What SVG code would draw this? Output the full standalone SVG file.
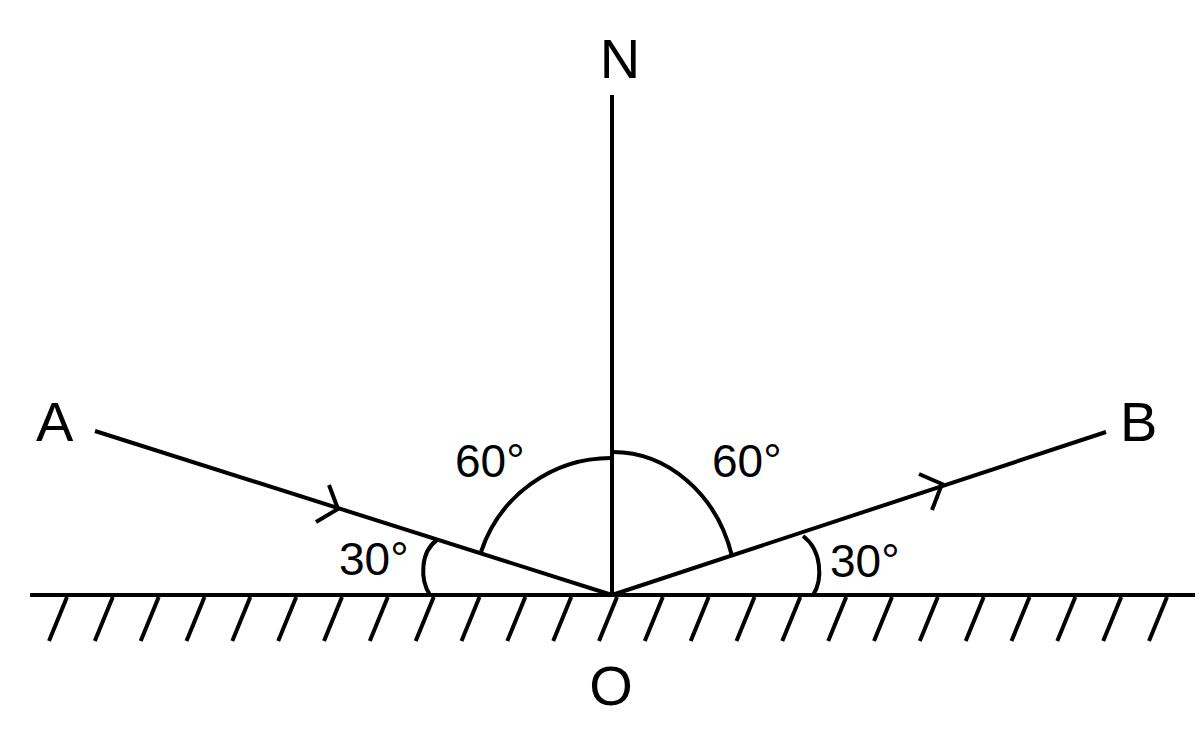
<svg xmlns="http://www.w3.org/2000/svg" width="1200" height="756" viewBox="0 0 1200 756">
<style>
.ln{stroke:#000;stroke-width:4;fill:none;stroke-linecap:butt}
.h{stroke:#000;stroke-width:4;fill:none}
.t{font-family:"Liberation Sans",Arial,sans-serif;fill:#000}
.big{font-size:56px}
.deg{font-size:46px}
</style>
<rect width="1200" height="756" fill="#fff"/>
<g id="mirror">
<line class="ln" x1="30" y1="595" x2="1195" y2="595"/>
<g id="hatches">
<line class="h" x1="67" y1="597" x2="49" y2="641"/>
<line class="h" x1="112.8" y1="597" x2="94.8" y2="641"/>
<line class="h" x1="158.7" y1="597" x2="140.7" y2="641"/>
<line class="h" x1="204.5" y1="597" x2="186.5" y2="641"/>
<line class="h" x1="250.3" y1="597" x2="232.3" y2="641"/>
<line class="h" x1="296.2" y1="597" x2="278.2" y2="641"/>
<line class="h" x1="342" y1="597" x2="324" y2="641"/>
<line class="h" x1="387.8" y1="597" x2="369.8" y2="641"/>
<line class="h" x1="433.7" y1="597" x2="415.7" y2="641"/>
<line class="h" x1="479.5" y1="597" x2="461.5" y2="641"/>
<line class="h" x1="525.3" y1="597" x2="507.3" y2="641"/>
<line class="h" x1="571.2" y1="597" x2="553.2" y2="641"/>
<line class="h" x1="617" y1="597" x2="599" y2="641"/>
<line class="h" x1="662.8" y1="597" x2="644.8" y2="641"/>
<line class="h" x1="708.7" y1="597" x2="690.7" y2="641"/>
<line class="h" x1="754.5" y1="597" x2="736.5" y2="641"/>
<line class="h" x1="800.3" y1="597" x2="782.3" y2="641"/>
<line class="h" x1="846.2" y1="597" x2="828.2" y2="641"/>
<line class="h" x1="892" y1="597" x2="874" y2="641"/>
<line class="h" x1="937.8" y1="597" x2="919.8" y2="641"/>
<line class="h" x1="983.7" y1="597" x2="965.7" y2="641"/>
<line class="h" x1="1029.5" y1="597" x2="1011.5" y2="641"/>
<line class="h" x1="1075.3" y1="597" x2="1057.3" y2="641"/>
<line class="h" x1="1121.2" y1="597" x2="1103.2" y2="641"/>
<line class="h" x1="1167" y1="597" x2="1149" y2="641"/>
</g>
</g>
<g id="connectors">
<line id="normal" class="ln" x1="612" y1="95" x2="612" y2="595"/>
<line id="rayAO" class="ln" x1="95" y1="431" x2="612" y2="595"/>
<line id="rayOB" class="ln" x1="612" y1="595" x2="1106" y2="432"/>
<polyline class="ln" points="329,485 338,509 316,522"/>
<polyline class="ln" points="919,474 942,484 932,510"/>
</g>
<g id="angles">
<path class="ln" d="M481,552 A137,137 0 0 1 612,458"/>
<path class="ln" d="M612,452 A124,143 0 0 1 732,556"/>
<path class="ln" d="M430,595 C420,580 420,552 437,540"/>
<path class="ln" d="M813,595 C823,580 822,550 803,536"/>
</g>
<g id="labels" class="t">
<text class="big" x="620" y="78" text-anchor="middle">N</text>
<text class="big" x="36" y="441">A</text>
<text class="big" x="1120" y="441">B</text>
<text class="big" x="611" y="705" text-anchor="middle">O</text>
<text class="deg" x="455" y="477">60°</text>
<text class="deg" x="712" y="477">60°</text>
<text class="deg" x="339" y="575">30°</text>
<text class="deg" x="830" y="577">30°</text>
</g>
</svg>
